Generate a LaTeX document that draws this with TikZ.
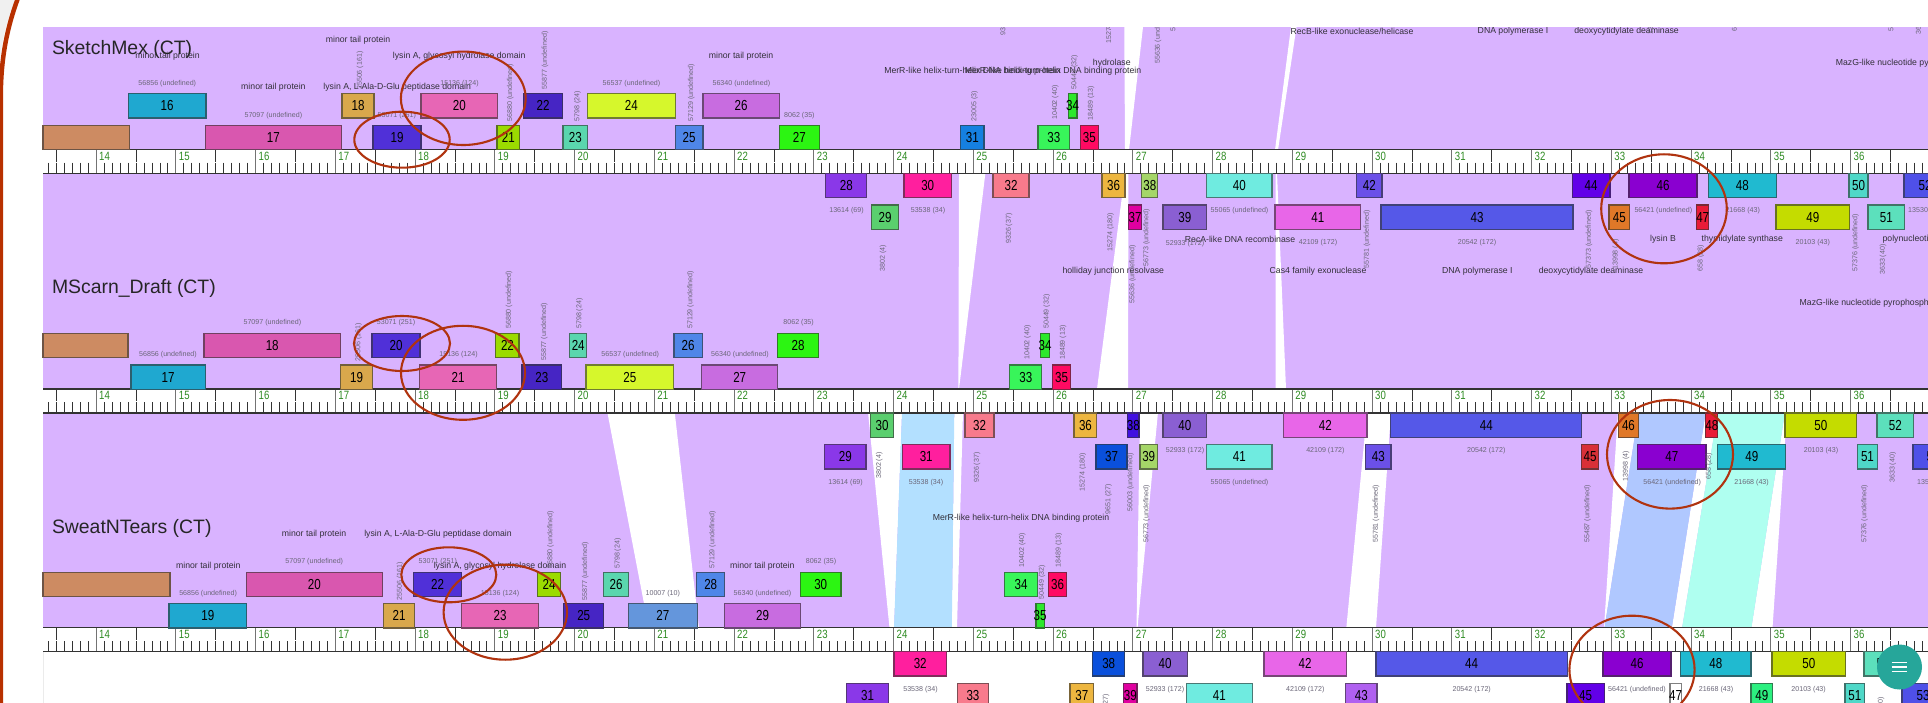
\documentclass[tikz,border=0pt]{standalone}
\usepackage{fontspec}
\usepackage{xcolor}
\usepackage{tikz}
\setmainfont{Liberation Sans}
\newfontfamily\numfont[FakeStretch=0.8]{Liberation Sans}
\definecolor{cPanel}{HTML}{D9B3FF}
\definecolor{cArc}{HTML}{B83000}
\definecolor{cRing}{HTML}{B0330F}
\definecolor{cButton}{HTML}{26A69A}
\definecolor{cTick}{HTML}{333333}
\definecolor{cRuleNum}{HTML}{2E8B22}
\definecolor{cLbl}{HTML}{6A6678}
\definecolor{cFn}{HTML}{33303A}
\definecolor{cBandA}{HTML}{B3E0FF}
\definecolor{cBandB}{HTML}{B0C8FF}
\definecolor{cBandC}{HTML}{AFFFF0}
\definecolor{cTan}{HTML}{CD8B62}
\definecolor{cSky}{HTML}{1FA8D0}
\definecolor{cOrchid}{HTML}{D957AF}
\definecolor{cGold}{HTML}{D9A84C}
\definecolor{cIndigo}{HTML}{5030D8}
\definecolor{cPink}{HTML}{E766B5}
\definecolor{cLime}{HTML}{9BDB00}
\definecolor{cViolet}{HTML}{4625C4}
\definecolor{cMint}{HTML}{5AD6AE}
\definecolor{cYellow}{HTML}{D6F72C}
\definecolor{cCorn}{HTML}{4F86E8}
\definecolor{cMauve}{HTML}{C86CE0}
\definecolor{cGreen}{HTML}{2CF512}
\definecolor{cPurple}{HTML}{8A38E8}
\definecolor{cLeaf}{HTML}{5ACF6E}
\definecolor{cMagenta}{HTML}{FF1F9E}
\definecolor{cAzure}{HTML}{1580E0}
\definecolor{cSalmon}{HTML}{F87A8C}
\definecolor{cSpring}{HTML}{38F55A}
\definecolor{cEmer}{HTML}{2CE82C}
\definecolor{cRose}{HTML}{FF0A62}
\definecolor{cAmber}{HTML}{EDB640}
\definecolor{cFuchsia}{HTML}{E000A0}
\definecolor{cOlive}{HTML}{A5D668}
\definecolor{cLilac}{HTML}{8A5FD2}
\definecolor{cAqua}{HTML}{6FEBE0}
\definecolor{cHot}{HTML}{E866E8}
\definecolor{cSlate}{HTML}{6B50E8}
\definecolor{cBlue}{HTML}{5558E8}
\definecolor{cElectric}{HTML}{6200E8}
\definecolor{cOrange}{HTML}{E07828}
\definecolor{cDeep}{HTML}{8A00D0}
\definecolor{cRed}{HTML}{E81C38}
\definecolor{cCyan}{HTML}{20BAD0}
\definecolor{cChart}{HTML}{C4DC00}
\definecolor{cTurq}{HTML}{4FD8C8}
\definecolor{cSea}{HTML}{5CE0BC}
\definecolor{cNavy}{HTML}{4F50E8}
\definecolor{cCobalt}{HTML}{0A50DC}
\definecolor{cUltra}{HTML}{4010E0}
\definecolor{cBrick}{HTML}{D83038}
\definecolor{cSteel}{HTML}{6496DC}
\definecolor{cPlum}{HTML}{B060F0}
\definecolor{cJade}{HTML}{2CF080}
\def\rowa{-55.6}
\def\rowb{-24}
\def\rowc{24}
\def\rowd{55.7}
\tikzset{
  genebox/.style={draw=#1!50!black!75!gray,fill=#1,line width=1.1pt,inner sep=0pt,outer sep=0pt,minimum height=24.3pt,font=\numfont\fontsize{14.5}{15}\selectfont,text=black},
  rulenum/.style={font=\numfont\fontsize{12}{12}\selectfont,text=cRuleNum,anchor=west,inner sep=0pt},
  title/.style={font=\fontsize{19.4}{20}\selectfont,text=black!85,anchor=west,inner sep=0pt},
  fnlbl/.style={font=\fontsize{8.7}{9}\selectfont,text=cFn,inner sep=0pt,yshift=-1pt},
  idlbl/.style={font=\fontsize{7.1}{8}\selectfont,text=cLbl,inner sep=0pt},
  idrot/.style={idlbl,rotate=90,anchor=west},
  ring/.style={draw=cRing,line width=2.1pt},
}
\begin{document}
\begin{tikzpicture}[x=1pt,y=-1pt]
  \useasboundingbox (0,0) rectangle (1928,703);
  \fill[white] (0,0) rectangle (1928,703);
  \fill[cPanel] (43,27) rectangle (1928,628);
  % gaps between the ribbons
  \fill[white] (1124.3,27) -- (1143,27) -- (1129,150) -- (1125,150) -- cycle;
  \fill[white] (1291,27) -- (1296.5,27) -- (1278,150) -- (1275,150) -- cycle;
  \fill[white] (959,173) -- (985.4,173) -- (959,389) -- (958.4,389) -- cycle;
  \fill[white] (1125,173) -- (1128.4,173) -- (1128,389) -- (1097,389) -- cycle;
  \fill[white] (1275.6,173) -- (1277,173) -- (1286,389) -- (1275.6,389) -- cycle;
  \fill[white] (607.3,412) -- (674.7,412) -- (699,628) -- (648.7,628) -- cycle;
  \fill[white] (868,412) -- (902,412) -- (894,628) -- (889.5,628) -- cycle;
  \fill[white] (954.3,412) -- (963,412) -- (957,628) -- (951.8,628) -- cycle;
  \fill[white] (1140,412) -- (1158,412) -- (1137.5,628) -- (1136.5,628) -- cycle;
  \fill[white] (1367,412) -- (1391,412) -- (1376,628) -- (1346.3,628) -- cycle;
  \fill[white] (1618,412) -- (1638.6,412) -- (1604.4,628) -- (1604,628) -- cycle;
  \fill[white] (1705.8,412) -- (1717.8,412) -- (1682,628) -- (1671.8,628) -- cycle;
  \fill[white] (1785,412) -- (1787,412) -- (1772.5,628) -- (1751.4,628) -- cycle;
  \fill[cBandA] (902,412) -- (954.3,412) -- (951.8,628) -- (894,628) -- cycle;
  \fill[cBandB] (1638.6,412) -- (1705.8,412) -- (1671.8,628) -- (1604.4,628) -- cycle;
  \fill[cBandC] (1717.8,412) -- (1785,412) -- (1751.4,628) -- (1682,628) -- cycle;
  \draw[black!8] (43,652) -- (43,703);
  % rulers
  \foreach \ry [count=\rn] in {149.3,389,627.7}{
    \begin{scope}[shift={(0,\ry)}]
      \fill[white] (43,0) rectangle (1928,24);
      \foreach \i in {-6,...,229}{\draw[cTick,line width=0.6pt] (96+7.975*\i,13.3) -- ++(0,10.7);}
      \foreach \k in {0,...,23}{
        \draw[cTick,line width=0.6pt] (56.1+79.75*\k,0) -- ++(0,12.4);
        \draw[black!55,line width=0.8pt] (96+79.75*\k,0) -- ++(0,24);
        \pgfmathtruncatemacro{\kb}{14+\k}
        \node[rulenum,name=ruler\rn-\kb] at (99+79.75*\k,6.7) {\kb};
      }
      \draw[cTick,line width=1.3pt] (43,0) -- (1928,0);
      \draw[cTick,line width=1.3pt] (43,24) -- (1928,24);
    \end{scope}}
  % SketchMex genes
  \begin{scope}[shift={(0,149.3)}]
    \foreach \n/\xa/\xb/\r/\c in {0/43/129.4/b/cTan,16/128.1/206/a/cSky,17/205.6/341.2/b/cOrchid,18/342/374/a/cGold,19/373/421/b/cIndigo,20/421/497.5/a/cPink,21/497/519.5/b/cLime,22/523.6/562.6/a/cViolet,23/563/587.5/b/cMint,24/587.5/675.2/a/cYellow,25/675.2/703/b/cCorn,26/703/779.3/a/cMauve,27/779.3/819.5/b/cGreen,28/825.7/866.8/c/cPurple,29/871.3/898.7/d/cLeaf,30/904/951.4/c/cMagenta,31/960.5/984/b/cAzure,32/993/1029/c/cSalmon,33/1038/1069.5/b/cSpring,34/1068.3/1077/a/cEmer,35/1080.3/1098.5/b/cRose,36/1102/1125/c/cAmber,37/1128.4/1141.7/d/cFuchsia,38/1141.7/1157.8/c/cOlive,39/1163/1206.7/d/cLilac,40/1206.7/1272/c/cAqua,41/1275/1360.8/d/cHot,42/1356.7/1382/c/cSlate,43/1381/1573/d/cBlue,44/1572.3/1610/c/cElectric,45/1609/1629.5/d/cOrange,46/1629/1697/c/cDeep,47/1696.7/1708.7/d/cRed,48/1708.3/1776.3/c/cCyan,49/1776/1849.7/d/cChart,50/1849/1868/c/cTurq,51/1868/1904.8/d/cSea,52/1904/1946/c/cNavy}{
      \node[genebox=\c,name=sm-\n,minimum width={(\xb-\xa)*1pt}] at ({(\xa+\xb)/2},{\csname row\r\endcsname+12.15}) {\ifnum\n>0 \makebox[0pt]{\n}\fi};
    }
  \end{scope}
  % MScarn_Draft genes
  \begin{scope}[shift={(0,389)}]
    \foreach \n/\xa/\xb/\r/\c in {0/43/128/a/cTan,17/131/205.2/b/cSky,18/204/340.4/a/cOrchid,19/340.4/372.7/b/cGold,20/372/420/a/cIndigo,21/419.6/496.7/b/cPink,22/495.9/519/a/cLime,23/522/561.8/b/cViolet,24/569.7/586.7/a/cMint,25/586/673.6/b/cYellow,26/674/702.2/a/cCorn,27/701.8/777.6/b/cMauve,28/777.6/818.7/a/cGreen,29/824.5/866/d/cPurple,30/870.5/893.7/c/cLeaf,31/902.4/950/d/cMagenta,32/965/994/c/cSalmon,33/1009.8/1041.7/b/cSpring,34/1040.5/1049.6/a/cEmer,35/1052.5/1070.8/b/cRose,36/1074/1096.9/c/cAmber,37/1096/1127/d/cCobalt,38/1127.6/1139/c/cUltra,39/1140/1157.4/d/cOlive,40/1163/1206.7/c/cLilac,41/1206.7/1272/d/cAqua,42/1283.7/1367/c/cHot,43/1365.8/1391/d/cSlate,44/1390.7/1581.8/c/cBlue,45/1581.4/1598.8/d/cBrick,46/1618.3/1638.6/c/cOrange,47/1637.8/1706/d/cDeep,48/1705.8/1717.8/c/cRed,49/1717.8/1785.8/d/cCyan,50/1785/1856.7/c/cChart,51/1857.5/1877.4/d/cTurq,52/1877/1913.5/c/cSea,53/1913/1953/d/cNavy}{
      \node[genebox=\c,name=ms-\n,minimum width={(\xb-\xa)*1pt}] at ({(\xa+\xb)/2},{\csname row\r\endcsname+12.15}) {\ifnum\n>0 \makebox[0pt]{\n}\fi};
    }
  \end{scope}
  % SweatNTears genes
  \begin{scope}[shift={(0,627.7)}]
    \foreach \n/\xa/\xb/\r/\c in {0/43/170/a/cTan,19/169/246.7/b/cSky,20/246.3/382.3/a/cOrchid,21/383.5/414.6/b/cGold,22/413.8/461.4/a/cIndigo,23/461.4/538.6/b/cPink,24/537.7/560.5/a/cLime,25/563.8/603.6/b/cViolet,26/603.6/628.5/a/cMint,27/628.5/697.2/b/cSteel,28/696.8/724.6/a/cCorn,29/724.6/800.4/b/cMauve,30/800.4/841/a/cGreen,31/846.9/888.3/d/cPurple,32/894/946.4/c/cMagenta,33/957.6/988.3/d/cSalmon,34/1004.8/1037.2/a/cSpring,35/1036/1044.2/b/cEmer,36/1048.4/1066.6/a/cRose,37/1070/1093.6/d/cAmber,38/1092.7/1124.7/c/cCobalt,39/1123.8/1137/d/cFuchsia,40/1143/1187.3/c/cLilac,41/1186.4/1252.4/d/cAqua,42/1264/1346.3/c/cHot,43/1345.5/1377/d/cPlum,44/1376/1567.3/c/cBlue,45/1567/1604.2/d/cElectric,46/1603/1671/c/cDeep,47/1670/1681.3/d/white,48/1680.5/1751/c/cCyan,49/1751/1772.5/d/cJade,50/1772/1845.5/c/cChart,51/1845/1864.6/d/cTurq,52/1864/1902/c/cSea,53/1902/1944/d/cNavy}{
      \node[genebox=\c,name=st-\n,minimum width={(\xb-\xa)*1pt}] at ({(\xa+\xb)/2},{\csname row\r\endcsname+12.15}) {\ifnum\n>0 \makebox[0pt]{\n}\fi};
    }
  \end{scope}
  % genome names
  \node[title,name=nameSketch] at (51.8,49) {SketchMex (CT)};
  \node[title,name=nameScarn] at (51.8,288.5) {MScarn\_Draft (CT)};
  \node[title,name=nameSweat] at (51.8,528) {SweatNTears (CT)};
  % function labels
  \foreach \x/\y/\t [count=\i] in {167.6/55/{minor tail protein},358/39/{minor tail protein},459.2/55/{lysin A, glycosyl hydrolase domain},273.4/86.7/{minor tail protein},397.2/86.7/{lysin A, L-Ala-D-Glu peptidase domain},741/55/{minor tail protein},972.5/70.7/{MerR-like helix-turn-helix DNA binding protein},1053/70.7/{MerR-like helix-turn-helix DNA binding protein},1111.8/62.7/{hydrolase},1352/30.7/{RecB-like exonuclease/helicase},1513/30.7/{DNA polymerase I},1626.6/30.7/{deoxycytidylate deaminase},1240/238.3/{RecA-like DNA recombinase},1663/238.3/{lysin B},1742.3/238.3/{thymidylate synthase},1113.3/270/{holliday junction resolvase},1318/270/{Cas4 family exonuclease},1477.3/270/{DNA polymerase I},1591/270/{deoxycytidylate deaminase},208.3/565/{minor tail protein},314/533.3/{minor tail protein},438/533.3/{lysin A, L-Ala-D-Glu peptidase domain},500/565/{lysin A, glycosyl hydrolase domain},762.3/565/{minor tail protein},1021/517.3/{MerR-like helix-turn-helix DNA binding protein}}{
    \node[fnlbl,name=fn\i] at (\x,\y) {\t};
  }
  \node[fnlbl,anchor=west,name=fnMazgA] at (1835.6,62.7) {MazG-like nucleotide pyrophosphohydrolase};
  \node[fnlbl,anchor=west,name=fnPolyA] at (1882.4,238.3) {polynucleotide kinase};
  \node[fnlbl,anchor=west,name=fnMazgB] at (1799.5,302) {MazG-like nucleotide pyrophosphohydrolase};
  % gene ids, flat
  \foreach \x/\y/\t [count=\i] in {167.3/83.3/56856 (undefined),273.4/115.3/57097 (undefined),396.8/115.3/53071 (251),459.5/83.3/15136 (124),631.5/83.3/56537 (undefined),741.4/83.3/56340 (undefined),799.4/115.3/8062 (35),846.5/211/13614 (69),928/211/53538 (34),1185/243.3/52933 (172),1239.5/211/55065 (undefined),1318/242.7/42109 (172),1477/242.7/20542 (172),1663.3/211/56421 (undefined),1742.7/211/21668 (43),1812.8/242.7/20103 (43),272.4/322.7/57097 (undefined),168/354.7/56856 (undefined),396/322.7/53071 (251),458.5/354.7/15136 (124),630.3/354.7/56537 (undefined),740/354.7/56340 (undefined),798.6/322.7/8062 (35),1325.4/450.3/42109 (172),1486.3/450.3/20542 (172),1821/450.3/20103 (43),1185/450.3/52933 (172),845.6/482.3/13614 (69),926/482.3/53538 (34),1239.5/482.3/55065 (undefined),1672.2/482.3/56421 (undefined),1751.6/482.3/21668 (43),314.3/562/57097 (undefined),208.1/594/56856 (undefined),437.8/562/53071 (251),500/594/15136 (124),662.8/594/10007 (10),762.5/594/56340 (undefined),821/562/8062 (35),920.5/689.7/53538 (34),1165/689.7/52933 (172),1305.3/689.7/42109 (172),1471.7/689.7/20542 (172),1637/689.7/56421 (undefined),1716/689.7/21668 (43),1808.6/689.7/20103 (43)}{
    \node[idlbl,name=id\i] at (\x,\y) {\t};
  }
  \node[idlbl,anchor=west,name=idEndA] at (1908,211) {13530 (120)};
  \node[idlbl,anchor=west,name=idEndB] at (1917,482.3) {13530 (120)};
  % gene ids, upright
  \foreach \x/\y/\t [count=\i] in {360/90/25506 (161),510.4/121.7/56880 (undefined),545/89.3/55877 (undefined),577.5/121.7/5798 (24),691.4/121.7/57129 (undefined),974.6/121.7/23005 (3),1055.4/120/10402 (40),1074.5/89.3/50449 (32),1091/120.7/18489 (13),1003.6/36/9326 (37),1109.3/44/15274 (180),1158/64/55636 (undefined),1173.6/31.7/56773 (undefined),1735/32/658 (28),1651/35/13998 (4),1891.5/32/57376 (undefined),1919/35/3633 (40),883/271.7/3802 (4),1009/244/9326 (37),1110.6/251.7/15274 (180),1132.5/303.3/55636 (undefined),1146.6/266.7/56773 (undefined),1367/268.3/55781 (undefined),1589/268.3/57373 (undefined),1615.8/270/13998 (4),1700.8/271.7/658 (28),1855.5/271.7/57376 (undefined),1883/275/3633 (40),358.6/361.7/25506 (161),509/329/56880 (undefined),544.4/361/55877 (undefined),579.6/329/5798 (24),690.6/329/57129 (undefined),1027.6/360/10402 (40),1046.7/329/50449 (32),1063/360/18489 (13),879.2/479/3802 (4),977/483/9326 (37),1082.8/491.3/15274 (180),1108.5/514.7/9651 (27),1130.5/511.3/56003 (undefined),1146.6/543/56773 (undefined),1376/543/55781 (undefined),1587.6/543/55487 (undefined),1626/481.3/13998 (4),1709/479.7/658 (28),1864.6/543/57376 (undefined),1892.8/483/3633 (40),400/600.3/25506 (161),550.6/569/56880 (undefined),585.4/600.3/55877 (undefined),617.7/569/5798 (24),712.6/569/57129 (undefined),1022.3/567.3/10402 (40),1042/599.7/50449 (32),1058.7/567.3/18489 (13),1106/725/9651 (27),1881/728/3633 (40)}{
    \node[idrot,name=idr\i] at (\x,\y) {\t};
  }
  % page above the panel
  \fill[white] (0,0) rectangle (1928,27);
  \fill[black!6] (0,0) -- (15,0) .. controls (7,20) and (2,40) .. (0,60) -- cycle;
  \draw[cArc,line width=4.5pt] (18,-2) .. controls (8,25) and (1,55) .. (0.8,95) -- (0.8,705);
  % circled genes
  \draw[ring] (402,139.7) ellipse [x radius=47.7,y radius=28];
  \draw[ring] (463.3,98.3) ellipse [x radius=62.4,y radius=46.7];
  \draw[ring] (1664,208.8) ellipse [x radius=62.8,y radius=54.5];
  \draw[ring] (402,343.5) ellipse [x radius=48,y radius=27.5];
  \draw[ring] (463,372.8) ellipse [x radius=62,y radius=47];
  \draw[ring] (1670,454.3) ellipse [x radius=63,y radius=54.3];
  \draw[ring] (448.8,574.8) ellipse [x radius=47.5,y radius=27.5];
  \draw[ring] (505.3,612.2) ellipse [x radius=61.7,y radius=47.5];
  \draw[ring] (1632,669.7) ellipse [x radius=62.6,y radius=54];
  % menu button
  \node[circle,fill=cButton,minimum size=45pt,inner sep=0pt,name=menuBtn] at (1899.5,667) {};
  \foreach \dy in {-4.2,0,4.2}{\draw[white,line width=1.1pt] ([shift={(-7.8,\dy)}]menuBtn.center) -- ++(15.6,0);}
\end{tikzpicture}
\end{document}
